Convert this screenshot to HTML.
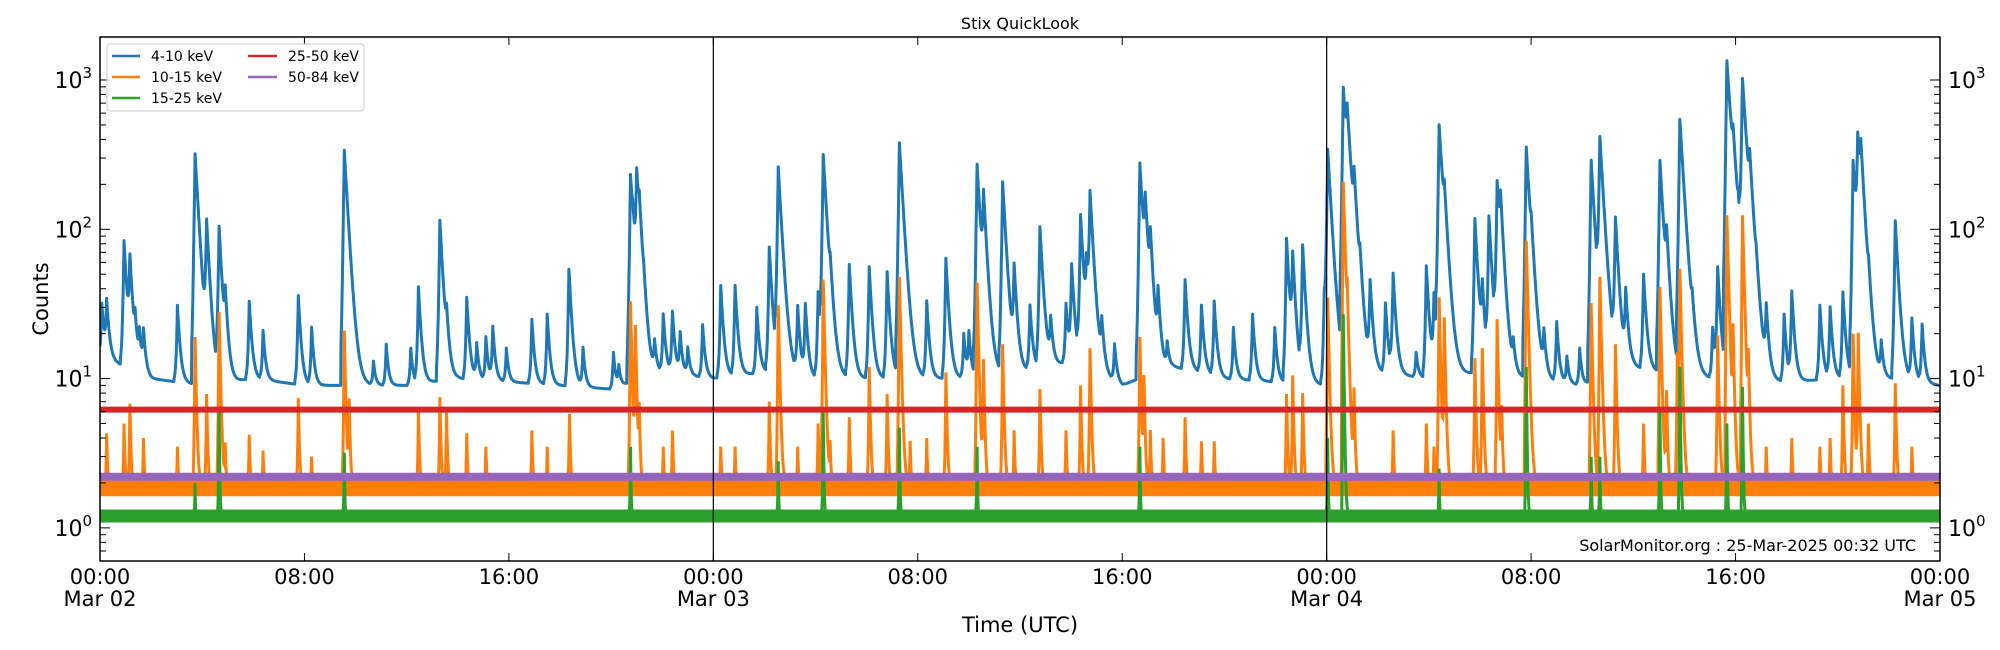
<!DOCTYPE html>
<html><head><meta charset="utf-8">
<style>
html,body{margin:0;padding:0;background:#fff;}
svg{display:block;font-family:"DejaVu Sans","Liberation Sans",sans-serif;}
</style></head>
<body>
<svg id="chart" width="2000" height="650" viewBox="0 0 2000 650" xmlns="http://www.w3.org/2000/svg">
<rect x="0" y="0" width="2000" height="650" fill="#fff"/>
<text x="1020" y="29" font-size="16" text-anchor="middle">Stix QuickLook</text>
<g id="series"></g>
<g id="axes"></g>
<text x="0" y="0" font-size="21" text-anchor="middle" transform="translate(48,299) rotate(-90)">Counts</text>
<text x="1020" y="632" font-size="21" text-anchor="middle">Time (UTC)</text>
<text x="1916" y="551" font-size="16" text-anchor="end">SolarMonitor.org : 25-Mar-2025 00:32 UTC</text>
<g>
<rect x="107" y="44" width="257" height="67" rx="3" fill="#fff" fill-opacity="0.8" stroke="#ccc" stroke-width="1"/>
<g><line x1="112" y1="56" x2="140" y2="56" stroke="#1f77b4" stroke-width="2.5"/><text x="151" y="61" font-size="14">4-10 keV</text></g>
<g><line x1="112" y1="77" x2="140" y2="77" stroke="#ff7f0e" stroke-width="2.5"/><text x="151" y="82" font-size="14">10-15 keV</text></g>
<g><line x1="112" y1="98" x2="140" y2="98" stroke="#2ca02c" stroke-width="2.5"/><text x="151" y="103" font-size="14">15-25 keV</text></g>
<g><line x1="248" y1="56" x2="277" y2="56" stroke="#d62728" stroke-width="2.5"/><text x="288" y="61" font-size="14">25-50 keV</text></g>
<g><line x1="248" y1="77" x2="277" y2="77" stroke="#9467bd" stroke-width="2.5"/><text x="288" y="82" font-size="14">50-84 keV</text></g>
</g>
</svg>
<script>
// ---- data ----
const blueBaseHours = [0,2,4,6,8,10,12,14,16,18,20,22,24,26,28,30,32,34,36,38,40,42,44,46,48,50,52,54,56,58,60,62,64,66,68,70,72];
const blueBaseValues = [14,10,9,10,9,9,9,10,9.5,9,8.5,11,10,11,10,10,10,10,11,13,9,12,10,9.5,9,11,10,11,10,9,12,10,10,9.5,10,10,9];
const blueEventTimes = [0.07,0.26,0.94,1.17,1.37,1.54,1.7,3.03,3.72,4.17,4.66,4.9,5.84,6.38,7.76,8.28,9.56,10.7,11.2,12.16,12.46,13.3,13.56,14.35,14.74,15.1,15.37,15.9,16.9,17.5,18.35,18.9,20.09,20.3,20.76,20.84,21.0,21.1,21.27,21.7,22.04,22.4,22.7,23.0,23.58,24.29,24.85,25.7,26.19,26.54,27.3,27.6,28.1,28.3,28.57,29.32,30.1,30.8,31.28,32.35,33.1,33.8,34.0,34.32,34.57,35.32,35.77,36.39,36.78,37.2,37.8,38.02,38.37,38.6,38.74,39.2,39.7,40.69,40.9,41.1,41.4,41.76,42.46,43.1,43.6,44.35,45.1,45.97,46.43,46.67,47.06,47.9,48.04,48.65,48.8,49.07,49.3,49.7,50.3,50.6,51.5,51.9,52.2,52.4,52.6,53.8,54.09,54.35,54.67,54.8,55.3,55.81,56.0,56.5,57.0,57.4,57.9,58.35,58.69,59.3,59.7,60.4,61.04,61.3,61.82,62.3,63.1,63.3,63.66,63.9,64.1,64.27,64.55,64.8,65.2,65.9,66.2,67.3,67.7,68.2,68.6,68.78,68.9,69.2,69.7,70.25,70.9,71.3];
const blueEventPeaks = [32,32,84,59,21,19,20,31,321,105,103,30,33,21,36,22,338,13,17,16,41,115,20,35,17,19,22,16,25,27,54,16,15,12,230,40,213,69,19,17,27,28,20,16,23,42,42,30,76,259,30,31,38,313,27,58,56,52,380,33,64,20,20,273,143,208,53,31,104,24,32,57,124,50,167,22,17,278,120,70,35,17,46,31,33,22,27,22,87,62,77,35,338,889,356,149,34,43,32,50,15,57,35,498,90,118,37,120,202,110,16,356,41,19,24,14,16,290,395,115,37,50,290,65,543,19,22,55,1343,190,50,970,170,22,28,27,38,31,30,38,290,366,220,24,17,114,25,23];
const orangeBase = [1.9,1.9];
const orangeEventTimes = [0.26,0.94,1.17,1.7,3.03,3.72,4.17,4.66,4.9,5.84,6.38,7.76,8.28,9.56,9.75,12.46,13.3,13.56,14.35,15.1,16.9,17.5,18.37,20.76,20.95,21.1,22.04,22.4,24.29,24.85,26.19,26.54,27.3,28.1,28.3,28.57,29.32,30.1,30.8,31.28,31.7,32.35,33.1,34.32,34.57,35.32,35.77,36.78,37.8,38.37,38.74,40.69,40.85,41.1,41.6,42.46,43.1,43.6,46.43,46.67,47.06,48.04,48.65,48.8,49.07,50.6,51.9,52.2,52.4,52.6,53.8,54.09,54.67,54.85,55.81,58.35,58.69,59.3,60.4,61.04,61.3,61.72,61.82,63.3,63.66,63.9,64.27,64.5,65.2,66.2,67.3,67.7,68.2,68.6,68.8,69.2,70.25,70.9];
const orangePeaks = [4.3,5,6.8,4,3.5,19,7.9,28,3.5,4.2,3.3,7.4,3,21,7,6.2,7.5,6,4.3,3.5,4.5,3.5,5.8,33,22,6,3.5,4.5,3.5,3.5,7,31,3.5,5,46,3.5,5.5,12,7.9,48,3.8,4,11,44,13,17,4.5,8.5,4.5,9,16,19,10,4.5,4,5.5,3.8,3.8,7.9,10.5,8,35,208,22,8,4.5,5,3.5,35,25,13.7,16,25,6,84,32,48,17,5,41,8,15,53,19.5,124,20,124,12,3.5,4,3.5,4,9,20,20,5,9.3,3.5];
const greenBase = [1.2,1.2];
const greenEventTimes = [3.72,4.66,9.56,20.76,26.54,28.3,31.28,34.32,40.69,48.04,48.65,52.4,55.81,58.35,58.69,61.04,61.82,63.66,64.27];
const greenPeaks = [2,6,3.2,3.5,2.8,6,4.7,3.5,3.5,4,27,2.5,12,3,3,6,12,5,8.8];
const redBase = [6.2,6.2];
const purpleBase = [2.2,2.2];
const xTickHours = [0,8,16,24,32,40,48,56,64,72];
const xTickLabels = ["00:00","08:00","16:00","00:00","08:00","16:00","00:00","08:00","16:00","00:00"];
const xTickDates = ["Mar 02","","","Mar 03","","","Mar 04","","","Mar 05"];
const dayLines = [24,48];
const yTickExps = [0,1,2,3];

// ---- scales ----
const L=100,R=1940,T=37,B=561;
const HMAX=72, YMIN=Math.log10(0.6), YMAX=Math.log10(1941);
function xs(h){return L+(h/HMAX)*(R-L);}
function ys(v){return B-(Math.log10(v)-YMIN)/(YMAX-YMIN)*(B-T);}
const NS="http://www.w3.org/2000/svg";
function mk(tag,attrs,parent){const e=document.createElementNS(NS,tag);for(const k in attrs)e.setAttribute(k,attrs[k]);parent.appendChild(e);return e;}

function baseAt(h){
  for(let i=0;i<blueBaseHours.length-1;i++){
    if(h<=blueBaseHours[i+1]){const f=(h-blueBaseHours[i])/(blueBaseHours[i+1]-blueBaseHours[i]);return blueBaseValues[i]+f*(blueBaseValues[i+1]-blueBaseValues[i]);}
  }
  return blueBaseValues[blueBaseValues.length-1];
}
function evalSeries(h,base,times,peaks,tauScale,rise){
  let v=base;
  for(let i=0;i<times.length;i++){
    const amp=peaks[i]-base; if(amp<=0)continue;
    const dt=h-times[i];
    const tau=tauScale*(0.6+Math.log10(peaks[i]));
    let f=0;
    if(dt<0&&dt>-rise*4)f=Math.exp(dt/rise);
    else if(dt>=0)f=Math.exp(-dt/tau);
    v+=amp*f;
  }
  return v;
}
const series=document.getElementById('series');
const clip=mk('clipPath',{id:'pc'},series);
mk('rect',{x:L,y:T,width:R-L,height:B-T},clip);
const g=mk('g',{'clip-path':'url(#pc)'},series);

function pathFrom(fn,step){
  let d='';
  for(let h=0;h<=HMAX+1e-9;h+=step){d+=(d?'L':'M')+xs(h).toFixed(1)+','+ys(fn(h)).toFixed(1);}
  return d;
}
// blue
const pBlue=mk('path',{d:pathFrom(h=>evalSeries(h,baseAt(h),blueEventTimes,blueEventPeaks,0.045,0.035),0.01),fill:'none',stroke:'#1f77b4','stroke-width':3,'stroke-linejoin':'round'},g);


// orange band + spikes
const oBand=mk('line',{x1:xs(0),x2:xs(HMAX),y1:ys(orangeBase[0]),y2:ys(orangeBase[1]),stroke:'#ff7f0e','stroke-width':20},g);


const pOr=mk('path',{d:pathFrom(h=>evalSeries(h,orangeBase[0],orangeEventTimes,orangePeaks,0.025,0.02),0.01),fill:'none',stroke:'#ff7f0e','stroke-width':3},g);


// green
const gBand=mk('line',{x1:xs(0),x2:xs(HMAX),y1:ys(greenBase[0]),y2:ys(greenBase[1]),stroke:'#2ca02c','stroke-width':13},g);


const pGr=mk('path',{d:pathFrom(h=>evalSeries(h,greenBase[0],greenEventTimes,greenPeaks,0.015,0.015),0.01),fill:'none',stroke:'#2ca02c','stroke-width':3},g);


// red
const pRed=mk('line',{x1:xs(0),x2:xs(HMAX),y1:ys(redBase[0]),y2:ys(redBase[1]),stroke:'#d62728','stroke-width':6},g);


// purple
const pPu=mk('line',{x1:xs(0),x2:xs(HMAX),y1:ys(purpleBase[0]),y2:ys(purpleBase[1]),stroke:'#9467bd','stroke-width':8},g);



// ---- axes ----
const ax=document.getElementById('axes');
dayLines.forEach(h=>{
  const l=mk('line',{x1:xs(h),x2:xs(h),y1:T,y2:B,stroke:'#000','stroke-width':1.2},ax);
  
  
});
const frame=mk('rect',{x:L,y:T,width:R-L,height:B-T,fill:'none',stroke:'#000','stroke-width':1.5},ax);


xTickHours.forEach((h,i)=>{
  const x=xs(h);
  mk('line',{x1:x,x2:x,y1:B,y2:B-8,stroke:'#000','stroke-width':1},ax);
  mk('line',{x1:x,x2:x,y1:T,y2:T+8,stroke:'#000','stroke-width':1},ax);
  const t=mk('text',{x:x,y:584,'font-size':21,'text-anchor':'middle'},ax);
  t.textContent=xTickLabels[i];
  
  
  if(xTickDates[i]){
    const d=mk('text',{x:x,y:606,'font-size':21,'text-anchor':'middle'},ax);
    d.textContent=xTickDates[i];
    
    
  }
});
for(let e=-1;e<=3;e++){
  for(let m=1;m<=9;m++){
    const v=m*Math.pow(10,e);const y=ys(v);
    if(y<T||y>B)continue;
    const len=m===1?10:6;
    mk('line',{x1:L,x2:L+len,y1:y,y2:y,stroke:'#000','stroke-width':1},ax);
    mk('line',{x1:R,x2:R-len,y1:y,y2:y,stroke:'#000','stroke-width':1},ax);
  }
}
yTickExps.forEach(e=>{
  const y=ys(Math.pow(10,e));
  const t1=mk('text',{x:L-8,y:y+8,'font-size':22,'text-anchor':'end'},ax);
  
  
  const a=mk('tspan',{},t1);a.textContent='10';
  const b=mk('tspan',{dy:-10,'font-size':15},t1);b.textContent=String(e);
  const t2=mk('text',{x:R+8,y:y+8,'font-size':22,'text-anchor':'start'},ax);
  
  
  const c=mk('tspan',{},t2);c.textContent='10';
  const d=mk('tspan',{dy:-10,'font-size':15},t2);d.textContent=String(e);
});
</script>
</body></html>
